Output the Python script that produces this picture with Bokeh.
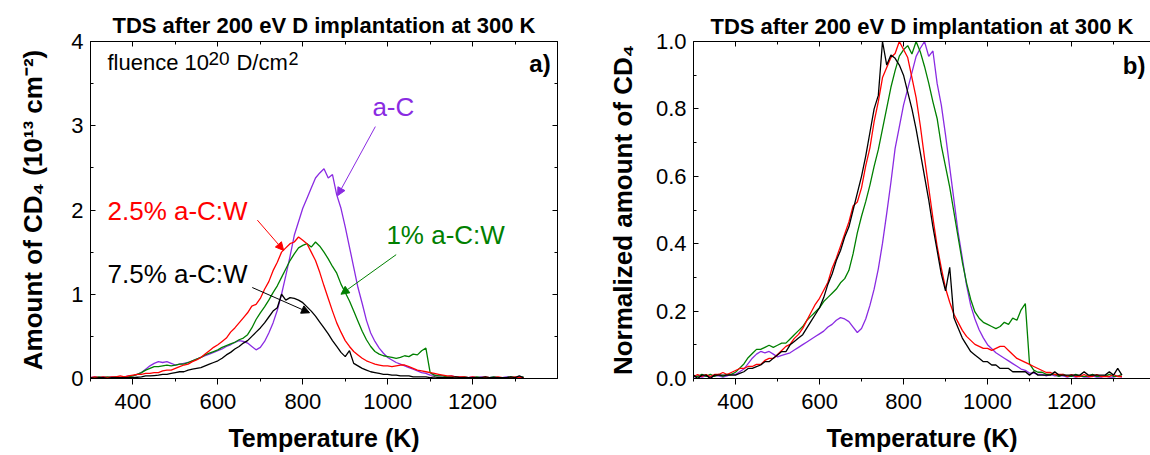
from bokeh.plotting import figure
from bokeh.models import (Range1d, FixedTicker, LinearAxis, Label, Arrow,
                          NormalHead, PrintfTickFormatter, CustomLabelingPolicy)
from bokeh.layouts import row
from bokeh.embed import file_html
from bokeh.resources import INLINE

# ---------------- data ----------------
temperature_K = [
    300, 310, 320, 330, 340, 350, 360, 370, 380, 390,
    400, 410, 420, 430, 440, 450, 460, 470, 480, 490,
    500, 510, 520, 530, 540, 550, 560, 570, 580, 590,
    600, 610, 620, 630, 640, 650, 660, 670, 680, 690,
    700, 710, 720, 730, 740, 750, 760, 770, 780, 790,
    800, 810, 820, 830, 840, 850, 860, 870, 880, 890,
    900, 910, 920, 930, 940, 950, 960, 970, 980, 990,
    1000, 1010, 1020, 1030, 1040, 1050, 1060, 1070, 1080, 1090,
    1100, 1110, 1120, 1130, 1140, 1150, 1160, 1170, 1180, 1190,
    1200, 1210, 1220, 1230, 1240, 1250, 1260, 1270, 1280, 1290,
    1300, 1310, 1320,
]

# amount of CD4 (10^13 cm^-2)
a_C = [
    0.01, 0.02, 0.01, 0.02, 0.01, 0.02, 0.02, 0.01, 0.02, 0.03,
    0.03, 0.05, 0.07, 0.11, 0.15, 0.18, 0.20, 0.19, 0.20, 0.18,
    0.16, 0.17, 0.18, 0.19, 0.21, 0.23, 0.25, 0.27, 0.29, 0.31,
    0.33, 0.35, 0.38, 0.40, 0.43, 0.45, 0.44, 0.42, 0.38, 0.34,
    0.37, 0.44, 0.54, 0.66, 0.81, 1.00, 1.22, 1.45, 1.70, 1.86,
    2.02, 2.14, 2.26, 2.38, 2.44, 2.49, 2.38, 2.42, 2.18, 2.02,
    1.80, 1.56, 1.32, 1.08, 0.89, 0.69, 0.54, 0.44, 0.36, 0.30,
    0.25, 0.22, 0.19, 0.17, 0.15, 0.13, 0.11, 0.09, 0.07, 0.06,
    0.04, 0.04, 0.03, 0.03, 0.02, 0.03, 0.02, 0.02, 0.02, 0.01,
    0.02, 0.01, 0.02, 0.01, 0.01, 0.02, 0.01, 0.01, 0.02, 0.01,
    0.01, 0.02, 0.01,
]
aCW_2_5 = [
    0.01, 0.02, 0.01, 0.02, 0.01, 0.02, 0.02, 0.03, 0.02, 0.03,
    0.04, 0.05, 0.05, 0.06, 0.06, 0.07, 0.07, 0.09, 0.10, 0.10,
    0.12, 0.14, 0.16, 0.17, 0.20, 0.22, 0.25, 0.29, 0.33, 0.37,
    0.40, 0.44, 0.48, 0.55, 0.60, 0.66, 0.72, 0.78, 0.86, 0.88,
    0.95, 1.06, 1.15, 1.28, 1.38, 1.50, 1.55, 1.60, 1.62, 1.68,
    1.64, 1.60, 1.50, 1.40, 1.26, 1.10, 0.95, 0.80, 0.66, 0.55,
    0.45, 0.38, 0.32, 0.28, 0.24, 0.21, 0.19, 0.17, 0.16, 0.15,
    0.15, 0.14, 0.15, 0.16, 0.16, 0.14, 0.12, 0.10, 0.09, 0.08,
    0.07, 0.06, 0.05, 0.04, 0.03, 0.03, 0.02, 0.02, 0.02, 0.01,
    0.02, 0.01, 0.01, 0.02, 0.01, 0.01, 0.02, 0.01, 0.01, 0.01,
    0.02, 0.01, 0.01,
]
aCW_1 = [
    0.01, 0.01, 0.02, 0.01, 0.02, 0.01, 0.02, 0.01, 0.02, 0.02,
    0.03, 0.05, 0.07, 0.10, 0.12, 0.14, 0.14, 0.15, 0.16, 0.15,
    0.16, 0.17, 0.17, 0.19, 0.21, 0.23, 0.25, 0.28, 0.30, 0.32,
    0.34, 0.37, 0.39, 0.41, 0.43, 0.46, 0.48, 0.52, 0.60, 0.70,
    0.78, 0.85, 0.93, 1.02, 1.10, 1.20, 1.30, 1.40, 1.48, 1.55,
    1.58, 1.60, 1.56, 1.62, 1.57, 1.50, 1.42, 1.33, 1.25, 1.12,
    1.02, 0.92, 0.80, 0.68, 0.56, 0.46, 0.38, 0.32, 0.29, 0.27,
    0.26, 0.25, 0.24, 0.25, 0.27, 0.26, 0.29, 0.28, 0.33, 0.36,
    0.07, 0.04, 0.03, 0.03, 0.02, 0.02, 0.02, 0.01, 0.02, 0.01,
    0.01, 0.02, 0.01, 0.01, 0.01, 0.02, 0.01, 0.01, 0.01, 0.02,
    0.01, 0.01, 0.02,
]
aCW_7_5 = [
    0.01, 0.00, 0.01, 0.01, 0.00, 0.01, 0.01, 0.01, 0.01, 0.01,
    0.01, 0.015, 0.02, 0.03, 0.03, 0.035, 0.04, 0.05, 0.05, 0.06,
    0.07, 0.08, 0.08, 0.10, 0.11, 0.12, 0.13, 0.15, 0.17, 0.19,
    0.21, 0.24, 0.28, 0.31, 0.35, 0.38, 0.42, 0.45, 0.50, 0.55,
    0.60, 0.66, 0.73, 0.80, 0.84, 1.00, 0.93, 0.96, 0.95, 0.93,
    0.90, 0.85, 0.80, 0.74, 0.67, 0.60, 0.53, 0.45, 0.38, 0.31,
    0.26, 0.33, 0.18, 0.15, 0.12, 0.10, 0.08, 0.07, 0.06, 0.05,
    0.05, 0.04, 0.04, 0.03, 0.03, 0.03, 0.02, 0.02, 0.02, 0.02,
    0.01, 0.02, 0.01, 0.01, 0.01, 0.01, 0.02, 0.01, 0.01, 0.01,
    0.01, 0.01, 0.01, 0.02, 0.01, 0.01, 0.01, 0.01, 0.01, 0.02,
    0.01, 0.03, 0.01,
]

series_names = ["a-C", "1% a-C:W", "2.5% a-C:W", "7.5% a-C:W"]
series_values = [a_C, aCW_1, aCW_2_5, aCW_7_5]
series_colors = ["#8a2be2", "#008000", "#ff0000", "#000000"]

x_major = [400, 600, 800, 1000, 1200]
x_minor = [300, 500, 700, 900, 1100, 1300]
ya_major = [0, 1, 2, 3, 4]
ya_minor = [0.5, 1.5, 2.5, 3.5]
yb_major = [0.0, 0.2, 0.4, 0.6, 0.8, 1.0]
yb_minor = [0.1, 0.3, 0.5, 0.7, 0.9]

FONT = "Liberation Sans"
TITLE = "TDS after 200 eV D implantation at 300 K"


def base_fig(width, height, xr, yr, bl, br, bt, bb, outline, title_standoff):
    p = figure(width=width, height=height, x_range=xr, y_range=yr,
               output_backend="svg", toolbar_location=None,
               min_border_left=bl, min_border_right=br,
               min_border_top=bt, min_border_bottom=bb,
               title=TITLE)
    p.title.text_font = FONT
    p.title.text_font_size = "22px"
    p.title.text_font_style = "bold"
    p.title.text_color = "black"
    p.title.align = "center"
    p.title.standoff = title_standoff
    p.xgrid.visible = False
    p.ygrid.visible = False
    p.background_fill_color = "white"
    p.border_fill_color = "white"
    p.outline_line_color = "black" if outline else None
    p.outline_line_width = 1
    return p


def style_bottom(ax):
    ax.ticker = FixedTicker(ticks=x_major, minor_ticks=x_minor)
    ax.major_tick_in = 0
    ax.major_tick_out = 6
    ax.minor_tick_in = 0
    ax.minor_tick_out = 3
    ax.axis_line_color = "black"
    ax.major_tick_line_color = "black"
    ax.minor_tick_line_color = "black"
    ax.major_label_text_font = FONT
    ax.major_label_text_font_size = "22px"
    ax.major_label_text_color = "black"
    ax.major_label_standoff = 9
    ax.axis_label = "Temperature (K)"
    ax.axis_label_text_font = FONT
    ax.axis_label_text_font_size = "25px"
    ax.axis_label_text_font_style = "bold"
    ax.axis_label_text_color = "black"
    ax.axis_label_standoff = 12


def style_left(ax, ticks, minor, label, standoff):
    ax.ticker = FixedTicker(ticks=ticks, minor_ticks=minor)
    ax.major_tick_in = 5
    ax.major_tick_out = 0
    ax.minor_tick_in = 3
    ax.minor_tick_out = 0
    ax.axis_line_color = "black"
    ax.major_tick_line_color = "black"
    ax.minor_tick_line_color = "black"
    ax.major_label_text_font = FONT
    ax.major_label_text_font_size = "22px"
    ax.major_label_text_color = "black"
    ax.major_label_standoff = 7
    ax.axis_label = label
    ax.axis_label_text_font = FONT
    ax.axis_label_text_font_size = "26px"
    ax.axis_label_text_font_style = "bold"
    ax.axis_label_text_color = "black"
    ax.axis_label_standoff = standoff


def mirror_axis(ticks, minor):
    ax = LinearAxis(ticker=FixedTicker(ticks=ticks, minor_ticks=minor))
    ax.major_label_policy = CustomLabelingPolicy(code="return []")
    ax.major_tick_in = 5
    ax.major_tick_out = 0
    ax.minor_tick_in = 3
    ax.minor_tick_out = 0
    ax.major_label_text_font_size = "0px"
    ax.major_label_standoff = 0
    ax.axis_line_color = "black"
    ax.major_tick_line_color = "black"
    ax.minor_tick_line_color = "black"
    return ax


# ---------------- panel a ----------------
pa = base_fig(600, 455, Range1d(300, 1400), Range1d(0, 4), 90, 43, 36, 77, True, 8)
style_bottom(pa.xaxis[0])
style_left(pa.yaxis[0], ya_major, ya_minor,
           "Amount of CD\u2084 (10\u00b9\u00b3 cm\u207b\u00b2)", 20)
pa.add_layout(mirror_axis(x_major, x_minor), "above")
pa.add_layout(mirror_axis(ya_major, ya_minor), "right")

for vals, col in zip(series_values, series_colors):
    pa.line(temperature_K, vals, line_color=col, line_width=1.3)

# "fluence 10^20 D/cm^2" built from pieces (superscripts raised)
fluence_parts = [("fluence 10", 0, 0, "22px"), ("20", 101, 10, "19px"),
                 ("D/cm", 129, 0, "22px"), ("2", 181, 10, "18px")]
for txt, dx, dy, fs in fluence_parts:
    pa.add_layout(Label(x=340, y=3.60, text=txt, x_offset=dx, y_offset=dy,
                        text_font=FONT, text_font_size=fs, text_color="black"))

pa.add_layout(Label(x=1384, y=3.58, text="a)", text_align="right",
                    text_font=FONT, text_font_size="24px",
                    text_font_style="bold", text_color="black"))

curve_labels = [
    # text, x, y, color, arrow start, arrow end
    ("a-C", 964, 3.04, "#8a2be2", (971, 2.99), (882, 2.17)),
    ("2.5% a-C:W", 340, 1.81, "#ff0000", (693, 1.88), (755, 1.52)),
    ("1% a-C:W", 997, 1.53, "#008000", (1020, 1.47), (890, 1.00)),
    ("7.5% a-C:W", 340, 1.06, "#000000", (681, 1.08), (816, 0.78)),
]
for txt, lx, ly, col, s, e in curve_labels:
    pa.add_layout(Label(x=lx, y=ly, text=txt, text_font=FONT,
                        text_font_size="26px", text_color=col))
    pa.add_layout(Arrow(end=NormalHead(size=8, fill_color=col, line_color=col,
                                       line_width=1),
                        x_start=s[0], y_start=s[1], x_end=e[0], y_end=e[1],
                        line_color=col, line_width=1))

# ---------------- panel b ----------------
pb = base_fig(550, 455, Range1d(300, 1388), Range1d(0, 1.0), 93, 0, 41, 76, False, 5)
style_bottom(pb.xaxis[0])
style_left(pb.yaxis[0], yb_major, yb_minor, "Normalized amount of CD\u2084", 15)
pb.yaxis[0].formatter = PrintfTickFormatter(format="%.1f")
pb.add_layout(mirror_axis(x_major, x_minor), "above")

for vals, col in zip(series_values, series_colors):
    peak = max(vals)
    pb.line(temperature_K, [v / peak for v in vals], line_color=col, line_width=1.3)

pb.add_layout(Label(x=1376, y=0.89, text="b)", text_align="right",
                    text_font=FONT, text_font_size="24px",
                    text_font_style="bold", text_color="black"))

layout = row(pa, pb)
open("out.html", "w").write(file_html(layout, INLINE))
